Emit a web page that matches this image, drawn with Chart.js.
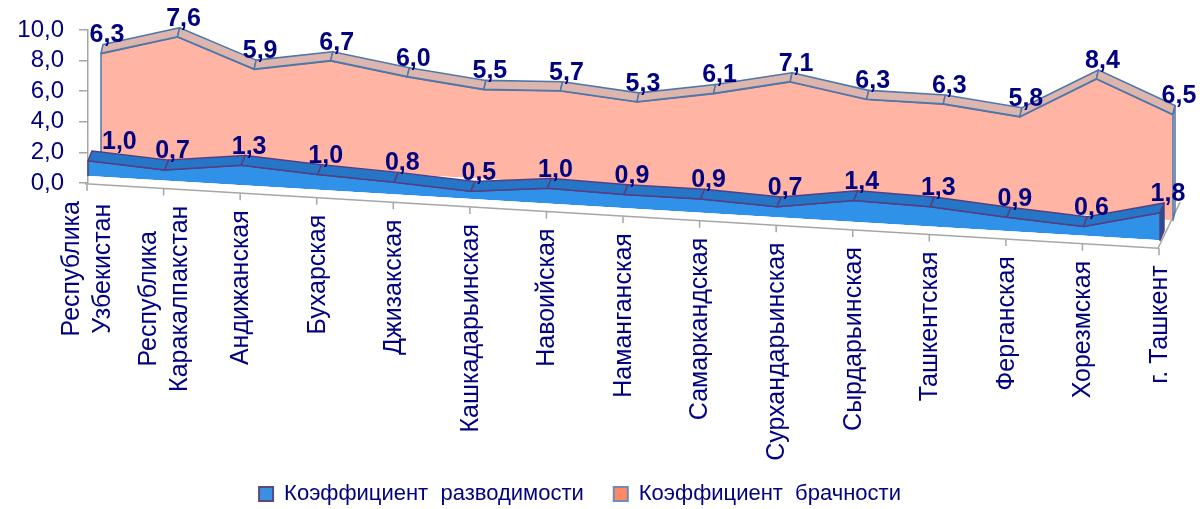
<!DOCTYPE html>
<html>
<head>
<meta charset="utf-8">
<script src="https://cdn.jsdelivr.net/npm/chart.js@4.4.1/dist/chart.umd.min.js"></script>
<style>
  html, body { margin: 0; padding: 0; background: #fff; }
  #wrap { width: 1200px; height: 509px; }
</style>
</head>
<body>
<div id="wrap"><canvas id="rateChart"></canvas></div>
<script>
// Регионы (подписи оси X)
const regions = [
  ["Республика", "Узбекистан"],
  ["Республика", "Каракалпакстан"],
  "Андижанская",
  "Бухарская",
  "Джизакская",
  "Кашкадарьинская",
  "Навоийская",
  "Наманганская",
  "Самаркандская",
  "Сурхандарьинская",
  "Сырдарьинская",
  "Ташкентская",
  "Ферганская",
  "Хорезмская",
  "г. Ташкент",
];

// Коэффициенты (на 1000 человек)
const divorceRate = [1.0, 0.7, 1.3, 1.0, 0.8, 0.5, 1.0, 0.9, 0.9, 0.7, 1.4, 1.3, 0.9, 0.6, 1.8];
const marriageRate = [6.3, 7.6, 5.9, 6.7, 6.0, 5.5, 5.7, 5.3, 6.1, 7.1, 6.3, 6.3, 5.8, 8.4, 6.5];

const seriesNames = ["Коэффициент разводимости", "Коэффициент брачности"];
const yMin = 0, yMax = 10, yStep = 2;

const navy = "#000080";
const font = '"Liberation Sans", Arial, sans-serif';

// псевдо-3D: наклон пола и сдвиг рядов вглубь
const tilt = 0.06;
const depth = [
  { dx: 0, dy: -7, sy: 1, band: { x: 4, y: -10 }, top: "#2676c8", side: "#1f4f96", edge: "#563e80" },
  { dx: 13, dy: -27, sy: 1.065, band: { x: 2, y: -8.5 }, top: "#dcb6ae", side: "#d9dee6", edge: "#4f77a8" },
];
const legendFill = ["#3a8fe0", "#ff8866"];
const legendEdge = ["#5b4a7a", "#6d8db5"];

function toScreen(chart, d, x, y) {
  const yb = chart.scales.y.getPixelForValue(0);
  const left = chart.chartArea.left;
  return { x: x + d.dx, y: yb + d.dy + (y - yb) * d.sy + tilt * (x - left) };
}

function floorY(chart, px) {
  return chart.scales.y.getPixelForValue(0) + 1 + tilt * (px - chart.chartArea.left);
}

const depthPlugin = {
  id: "depth3d",
  beforeDatasetsDraw(chart) {
    const ctx = chart.ctx;
    const area = chart.chartArea;
    const xs = chart.scales.x;
    ctx.save();
    ctx.strokeStyle = "#a6a6a6";
    ctx.lineWidth = 1.5;
    ctx.beginPath();
    ctx.moveTo(area.left - 3, floorY(chart, area.left - 3));
    ctx.lineTo(area.right - 2, floorY(chart, area.right - 2));
    ctx.lineTo(area.right + 20, floorY(chart, area.right) - 46);
    regions.forEach((_, i) => {
      const px = xs.getPixelForValue(i) - 1;
      ctx.moveTo(px, floorY(chart, px));
      ctx.lineTo(px, floorY(chart, px) + 7);
    });
    ctx.stroke();
    ctx.restore();
  },
  beforeDatasetDraw(chart, args) {
    const ctx = chart.ctx;
    const d = depth[args.index];
    const yb = chart.scales.y.getPixelForValue(0);
    const left = chart.chartArea.left;
    ctx.save();
    ctx.transform(1, tilt, 0, d.sy, d.dx, yb * (1 - d.sy) + d.dy - tilt * left);
  },
  afterDatasetDraw(chart, args) {
    const ctx = chart.ctx;
    const d = depth[args.index];
    const pts = args.meta.data;
    const yb = chart.scales.y.getPixelForValue(0);
    const b = d.band;
    ctx.lineJoin = "round";
    ctx.lineWidth = 1.5;
    ctx.strokeStyle = d.edge;
    // верхняя грань
    for (let i = 0; i < pts.length - 1; i++) {
      const p = pts[i], q = pts[i + 1];
      ctx.beginPath();
      ctx.moveTo(p.x, p.y);
      ctx.lineTo(q.x, q.y);
      ctx.lineTo(q.x + b.x, q.y + b.y);
      ctx.lineTo(p.x + b.x, p.y + b.y);
      ctx.closePath();
      ctx.fillStyle = d.top;
      ctx.fill();
      ctx.stroke();
    }
    // торец справа
    const e = pts[pts.length - 1];
    ctx.beginPath();
    ctx.moveTo(e.x, e.y);
    ctx.lineTo(e.x + b.x, e.y + b.y);
    ctx.lineTo(e.x + b.x, yb + b.y);
    ctx.lineTo(e.x, yb);
    ctx.closePath();
    ctx.fillStyle = d.side;
    ctx.fill();
    ctx.stroke();
    // левый край
    ctx.beginPath();
    ctx.moveTo(pts[0].x, pts[0].y);
    ctx.lineTo(pts[0].x, yb);
    ctx.stroke();
    ctx.restore();
  },
  afterDatasetsDraw(chart) {
    const ctx = chart.ctx;
    const left = chart.chartArea.left;
    ctx.save();
    ctx.font = "bold 25px " + font;
    ctx.fillStyle = navy;
    ctx.textAlign = "center";
    ctx.textBaseline = "alphabetic";
    chart.data.datasets.forEach((ds, di) => {
      const d = depth[di];
      chart.getDatasetMeta(di).data.forEach((pt, i) => {
        const s = toScreen(chart, d, pt.x + d.band.x, pt.y + d.band.y);
        const text = ds.data[i].toFixed(1).replace(".", ",");
        const w = ctx.measureText(text).width;
        let cx = s.x + 4;
        if (cx - w / 2 < left) cx = left + 14 + w / 2;
        ctx.fillText(text, cx, s.y - 2);
      });
    });
    ctx.restore();
  },
  afterDraw(chart) {
    const ctx = chart.ctx;
    const xs = chart.scales.x;
    const lineH = 31;
    ctx.save();
    ctx.font = "25px " + font;
    ctx.fillStyle = navy;
    ctx.textAlign = "center";
    ctx.textBaseline = "middle";
    regions.forEach((label, i) => {
      const lines = Array.isArray(label) ? label : [label];
      const px = xs.getPixelForValue(i);
      const top = floorY(chart, px) + 17;
      const w = Math.max(...lines.map((l) => ctx.measureText(l).width));
      ctx.save();
      ctx.translate(px, top);
      ctx.rotate(-Math.PI / 2);
      lines.forEach((l, j) => {
        ctx.fillText(l, -w / 2, (j - (lines.length - 1) / 2) * lineH);
      });
      ctx.restore();
    });
    ctx.restore();
  },
};

// заливку рисуем после нашего сдвига
const filler = Chart.registry.getPlugin("filler");
Chart.unregister(filler);
Chart.register(depthPlugin, filler);

Chart.defaults.font.family = font;

const config = {
  type: "line",
  data: {
    labels: regions,
    datasets: [
      {
        label: seriesNames[0],
        data: divorceRate,
        backgroundColor: "#2f92e8",
        borderColor: "#563e80",
        borderWidth: 1.5,
        fill: "origin",
        pointRadius: 0,
        clip: false,
      },
      {
        label: seriesNames[1],
        data: marriageRate,
        backgroundColor: "#ffb4a4",
        borderColor: "#4f77a8",
        borderWidth: 2,
        fill: "origin",
        pointRadius: 0,
        clip: false,
      },
    ],
  },
  options: {
    responsive: true,
    maintainAspectRatio: false,
    animation: false,
    devicePixelRatio: 1,
    layout: { padding: { left: 0, right: 40, top: 30, bottom: -6 } },
    plugins: {
      tooltip: { enabled: false },
      legend: {
        position: "bottom",
        labels: {
          color: navy,
          font: { size: 22, family: font },
          boxWidth: 14,
          boxHeight: 14,
          padding: 30,
          generateLabels(chart) {
            const items = Chart.defaults.plugins.legend.labels.generateLabels(chart);
            items.forEach((it, i) => {
              it.text = it.text.replace(" ", "  ");
              it.fillStyle = legendFill[i];
              it.strokeStyle = legendEdge[i];
              it.lineWidth = 2;
            });
            return items;
          },
        },
      },
    },
    scales: {
      x: {
        offset: false,
        grid: { display: false },
        border: { display: false },
        ticks: { display: false },
        afterFit(scale) {
          scale.height = 270;
        },
      },
      y: {
        min: yMin,
        max: yMax,
        ticks: {
          stepSize: yStep,
          autoSkip: false,
          color: navy,
          font: { size: 24, family: font },
          padding: 15,
          callback: (v) => v.toFixed(1).replace(".", ","),
        },
        grid: { drawOnChartArea: false, tickLength: 9, color: "#a6a6a6", lineWidth: 1.5 },
        border: { color: "#a6a6a6", width: 1.5 },
        afterFit(scale) {
          scale.width = 88;
        },
      },
    },
  },
};

const rateChart = new Chart(document.getElementById("rateChart"), config);
</script>
</body>
</html>
